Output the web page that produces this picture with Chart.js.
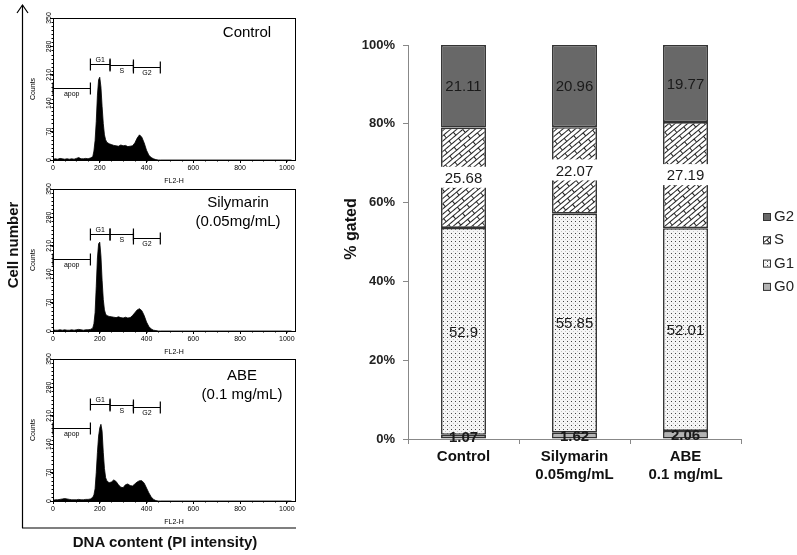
<!DOCTYPE html>
<html lang="en">
<head>
<meta charset="UTF-8">
<title>Cell cycle distribution</title>
<script src="https://cdn.jsdelivr.net/npm/chart.js"></script>
<style>
  body { margin: 0; background: #fff; }
  #page { position: relative; width: 797px; height: 555px; overflow: hidden; font-family: "Liberation Sans", Arial, sans-serif; }
  canvas, svg { position: absolute; }
  .lbl { position: absolute; font-weight: bold; font-size: 15px; color: #111; white-space: nowrap; transform: translate(-50%, -50%); }
  #cellNum { left: 12px; top: 245px; transform: translate(-50%, -50%) rotate(-90deg); }
  #dnaLbl { left: 165px; top: 541px; }
</style>
</head>
<body>
<div id="page">
  <canvas id="h1" width="300" height="185" style="left:0;top:0"></canvas>
  <canvas id="h2" width="300" height="185" style="left:0;top:171px"></canvas>
  <canvas id="h3" width="300" height="185" style="left:0;top:341px"></canvas>
  <svg width="300" height="535" style="left:0;top:0">
    <line x1="22.5" y1="5" x2="22.5" y2="528" stroke="#000" stroke-width="1.2"/>
    <line x1="22" y1="528" x2="296" y2="528" stroke="#000" stroke-width="1.2"/>
    <polyline points="17,13 22.5,5 28,13" fill="none" stroke="#000" stroke-width="1.2"/>
  </svg>
  <div class="lbl" id="cellNum">Cell number</div>
  <div class="lbl" id="dnaLbl">DNA content (PI intensity)</div>
  <canvas id="bars" width="467" height="555" style="left:330px;top:0"></canvas>
</div>

<script>
Chart.defaults.font.family = '"Liberation Sans", Arial, sans-serif';

// histogram channels (FL2-H) and counts
var channels = [0,10,20,30,40,50,60,70,80,90,100,110,120,130,140,150,160,170,
  175,180,185,190,195,200,205,210,215,220,225,230,
  240,250,260,270,280,290,300,310,320,330,340,350,360,370,380,390,400,410,420,430,440,450,460,1020];
var countsControl = [2,3,2,4,3,2,3,2,3,2,4,6,3,3,4,3,5,8,
  22,48,95,160,198,204,180,132,90,62,50,44,
  40,38,36,35,34,37,35,36,33,34,35,42,54,62,56,42,24,12,6,3,1,0,0,0];
var countsSilymarin = [3,2,2,3,2,3,2,2,3,2,3,4,3,2,3,3,4,7,
  18,45,110,180,215,219,185,125,78,52,42,38,
  36,35,34,33,35,33,32,34,32,33,38,45,52,55,50,38,22,11,5,2,1,0,0,0];
var countsABE = [2,3,3,4,5,6,5,4,3,3,3,4,3,3,4,4,5,9,
  15,30,70,120,160,180,189,172,120,80,58,50,
  45,47,52,48,40,34,33,40,42,38,37,42,47,50,50,44,32,20,10,4,1,0,0,0];

var xTicks = [0, 200, 400, 600, 800, 1000];
var yTicks = [0, 70, 140, 210, 280, 350];

// gates: name, start, end channel; level (counts) per panel
var gateNames = ['apop', 'G1', 'S', 'G2'];
var gateFrom = [0, 160, 244, 344];
var gateTo = [160, 244, 344, 459];
var gateLevelControl = [177, 236, 234, 228];
var gateLevelSilymarin = [178, 240, 238, 229];
var gateLevelABE = [179, 238, 236, 231];

// bar chart data
var groups = [['Control'], ['Silymarin', '0.05mg/mL'], ['ABE', '0.1 mg/mL']];
var phases = ['G0', 'G1', 'S', 'G2'];
var g0 = [1.07, 1.62, 2.06];
var g1 = [52.9, 55.85, 52.01];
var sPhase = [25.68, 22.07, 27.19];
var g2 = [21.11, 20.96, 19.77];

var histDecor = {
  id: 'histDecor',
  afterDraw: function(chart) {
    var ctx = chart.ctx, a = chart.chartArea;
    var xs = chart.scales.x, ys = chart.scales.y;
    var o = chart.options.plugins.histDecor;
    ctx.save();
    ctx.strokeStyle = '#000';
    ctx.lineWidth = 1;
    ctx.strokeRect(Math.round(a.left) + 0.5, Math.round(a.top) + 0.5, Math.round(a.right - a.left), Math.round(a.bottom - a.top));
    // minor ticks
    ctx.beginPath();
    for (var v = 10; v < 350; v += 10) {
      var py = Math.round(ys.getPixelForValue(v)) + 0.5;
      ctx.moveTo(a.left - 1.5, py); ctx.lineTo(a.left, py);
    }
    for (var c = 50; c < 1030; c += 50) {
      var px = Math.round(xs.getPixelForValue(c)) + 0.5;
      ctx.moveTo(px, a.bottom); ctx.lineTo(px, a.bottom + 1.5);
    }
    ctx.stroke();
    // gates
    ctx.font = '7px "Liberation Sans", Arial, sans-serif';
    ctx.fillStyle = '#000';
    ctx.textAlign = 'center';
    ctx.lineWidth = 1.2;
    for (var i = 0; i < gateNames.length; i++) {
      var y = Math.round(ys.getPixelForValue(o.levels[i])) + 0.5;
      var x1 = xs.getPixelForValue(gateFrom[i]), x2 = xs.getPixelForValue(gateTo[i]);
      ctx.beginPath();
      ctx.moveTo(x1, y); ctx.lineTo(x2, y);
      ctx.moveTo(x1, y - 6); ctx.lineTo(x1, y + 6);
      ctx.moveTo(x2, y - 6); ctx.lineTo(x2, y + 6);
      ctx.stroke();
      var xm = (x1 + x2) / 2;
      if (gateNames[i] === 'G1') {
        ctx.textBaseline = 'bottom';
        ctx.fillText(gateNames[i], xm, y - 1);
      } else {
        ctx.textBaseline = 'top';
        ctx.fillText(gateNames[i], xm, y + 2);
      }
    }
    // panel title
    ctx.font = '15px "Liberation Sans", Arial, sans-serif';
    ctx.textBaseline = 'middle';
    for (var k = 0; k < o.title.length; k++) {
      ctx.fillText(o.title[k], o.titleX, o.titleY + k * 19);
    }
    ctx.restore();
  }
};

function histChart(id, counts, levels, title, titleX, titleY) {
  var pts = channels.map(function(c, i) { return { x: c, y: counts[i] }; });
  return new Chart(document.getElementById(id), {
    type: 'line',
    data: {
      datasets: [{
        data: pts,
        fill: 'origin',
        backgroundColor: '#000',
        borderColor: '#000',
        borderWidth: 0.8,
        pointRadius: 0,
        tension: 0
      }]
    },
    options: {
      responsive: false,
      animation: false,
      devicePixelRatio: 1,
      layout: { padding: { left: 24, top: 18, right: 5, bottom: 0 } },
      plugins: {
        legend: { display: false },
        tooltip: { enabled: false },
        histDecor: { levels: levels, title: title, titleX: titleX, titleY: titleY }
      },
      scales: {
        x: {
          type: 'linear', min: 0, max: 1035,
          afterBuildTicks: function(s) { s.ticks = xTicks.map(function(v) { return { value: v }; }); },
          afterFit: function(s) { s.height = 25; },
          grid: { drawOnChartArea: false, tickLength: 3, color: '#000' },
          border: { color: '#000' },
          ticks: { font: { size: 7 }, color: '#000', padding: 1, maxRotation: 0,
            callback: function(v) { return String(v); } },
          title: { display: true, text: 'FL2-H', font: { size: 7 }, color: '#000', padding: 0 }
        },
        y: {
          min: 0, max: 350,
          afterBuildTicks: function(s) { s.ticks = yTicks.map(function(v) { return { value: v }; }); },
          afterFit: function(s) { s.width = 29; },
          grid: { drawOnChartArea: false, tickLength: 3, color: '#000' },
          border: { color: '#000' },
          ticks: { font: { size: 7 }, color: '#000', padding: -5, minRotation: 90, maxRotation: 90, crossAlign: 'center',
            callback: function(v) { return String(v); } },
          title: { display: true, text: 'Counts', font: { size: 7 }, color: '#000', padding: { top: 5, bottom: 0 } }
        }
      }
    },
    plugins: [histDecor]
  });
}

histChart('h1', countsControl, gateLevelControl, ['Control'], 247, 33);
histChart('h2', countsSilymarin, gateLevelSilymarin, ['Silymarin', '(0.05mg/mL)'], 238, 32);
histChart('h3', countsABE, gateLevelABE, ['ABE', '(0.1 mg/mL)'], 242, 35);

// fill patterns
function dotPattern(ctx) {
  var c = document.createElement('canvas');
  c.width = 4; c.height = 4;
  var x = c.getContext('2d');
  x.fillStyle = '#f6f6f6'; x.fillRect(0, 0, 4, 4);
  x.fillStyle = '#444'; x.fillRect(1, 1, 1, 1);
  x.fillStyle = '#c8c8c8'; x.fillRect(3, 3, 1, 1);
  return ctx.createPattern(c, 'repeat');
}
function brickPattern(ctx) {
  var c = document.createElement('canvas');
  c.width = 18; c.height = 8;
  var x = c.getContext('2d');
  x.fillStyle = '#fff'; x.fillRect(0, 0, 18, 8);
  x.strokeStyle = '#222'; x.lineWidth = 1;
  x.beginPath();
  x.moveTo(0, 0.5); x.lineTo(18, 0.5);
  x.moveTo(0, 4.5); x.lineTo(18, 4.5);
  x.moveTo(0.5, 0); x.lineTo(0.5, 4.5);
  x.moveTo(9.5, 4.5); x.lineTo(9.5, 8);
  x.stroke();
  var p = ctx.createPattern(c, 'repeat');
  p.setTransform(new DOMMatrix().rotateSelf(-40));
  return p;
}

var barCanvas = document.getElementById('bars');
var bctx = barCanvas.getContext('2d');
var fills = ['#b3b3b3', dotPattern(bctx), brickPattern(bctx), '#686868'];
var raw = [g0, g1, sPhase, g2];
var totals = groups.map(function(_, j) { return g0[j] + g1[j] + sPhase[j] + g2[j]; });

var segLabels = {
  id: 'segLabels',
  afterDatasetsDraw: function(chart) {
    var ctx = chart.ctx;
    ctx.save();
    ctx.textAlign = 'center';
    ctx.textBaseline = 'middle';
    chart.data.datasets.forEach(function(ds, i) {
      chart.getDatasetMeta(i).data.forEach(function(el, j) {
        var yc = (el.y + el.base) / 2;
        if (i === 2) {
          ctx.fillStyle = '#fff';
          ctx.fillRect(el.x - el.width / 2 - 1, yc - 11, el.width + 2, 21);
        }
        ctx.font = (i === 0 ? 'bold ' : '') + '15px "Liberation Sans", Arial, sans-serif';
        ctx.fillStyle = '#1a1a1a';
        ctx.fillText(String(raw[i][j]), el.x, yc + 1);
      });
    });
    ctx.restore();
  },
  afterDraw: function(chart) {
    var ctx = chart.ctx, a = chart.chartArea;
    ctx.save();
    // y axis title, a little above centre as in the original
    ctx.font = 'bold 16px "Liberation Sans", Arial, sans-serif';
    ctx.fillStyle = '#111';
    ctx.textAlign = 'center';
    ctx.textBaseline = 'middle';
    ctx.translate(22, 229);
    ctx.rotate(-Math.PI / 2);
    ctx.fillText('% gated', 0, 0);
    ctx.setTransform(1, 0, 0, 1, 0, 0);
    // legend
    ctx.font = '15px "Liberation Sans", Arial, sans-serif';
    ctx.textAlign = 'left';
    var n = chart.data.datasets.length;
    for (var k = 0; k < n; k++) {
      var ds = chart.data.datasets[n - 1 - k];
      var y = 217 + k * 23.3;
      var bx = a.right + 22;
      ctx.fillStyle = ds.backgroundColor;
      ctx.fillRect(bx, y - 4, 8, 8);
      ctx.strokeStyle = '#333';
      ctx.lineWidth = 1;
      ctx.strokeRect(bx + 0.5, y - 3.5, 7, 7);
      ctx.fillStyle = '#222';
      ctx.fillText(ds.label, bx + 11, y);
    }
    ctx.restore();
  }
};

new Chart(barCanvas, {
  type: 'bar',
  data: {
    labels: groups,
    datasets: phases.map(function(p, i) {
      return {
        label: p,
        data: raw[i].map(function(v, j) { return v / totals[j] * 100; }),
        backgroundColor: fills[i],
        borderColor: '#333',
        borderWidth: 1.6,
        borderSkipped: false,
        barPercentage: 0.405,
        categoryPercentage: 1
      };
    })
  },
  options: {
    responsive: false,
    animation: false,
    devicePixelRatio: 1,
    layout: { padding: { left: 0, top: 45, right: 56, bottom: 0 } },
    plugins: { legend: { display: false }, tooltip: { enabled: false } },
    scales: {
      x: {
        stacked: true,
        afterFit: function(s) { s.height = 116; },
        grid: { drawOnChartArea: false, tickLength: 5, color: '#888' },
        border: { color: '#888' },
        ticks: { font: { size: 15, weight: 'bold' }, color: '#111', padding: 4 }
      },
      y: {
        stacked: true, min: 0, max: 100,
        afterFit: function(s) { s.width = 78; },
        grid: { drawOnChartArea: false, tickLength: 5, color: '#888' },
        border: { color: '#888' },
        ticks: { stepSize: 20, font: { size: 13, weight: 'bold' }, color: '#222', padding: 8,
          callback: function(v) { return v + '%'; } }
      }
    }
  },
  plugins: [segLabels]
});
</script>
</body>
</html>
